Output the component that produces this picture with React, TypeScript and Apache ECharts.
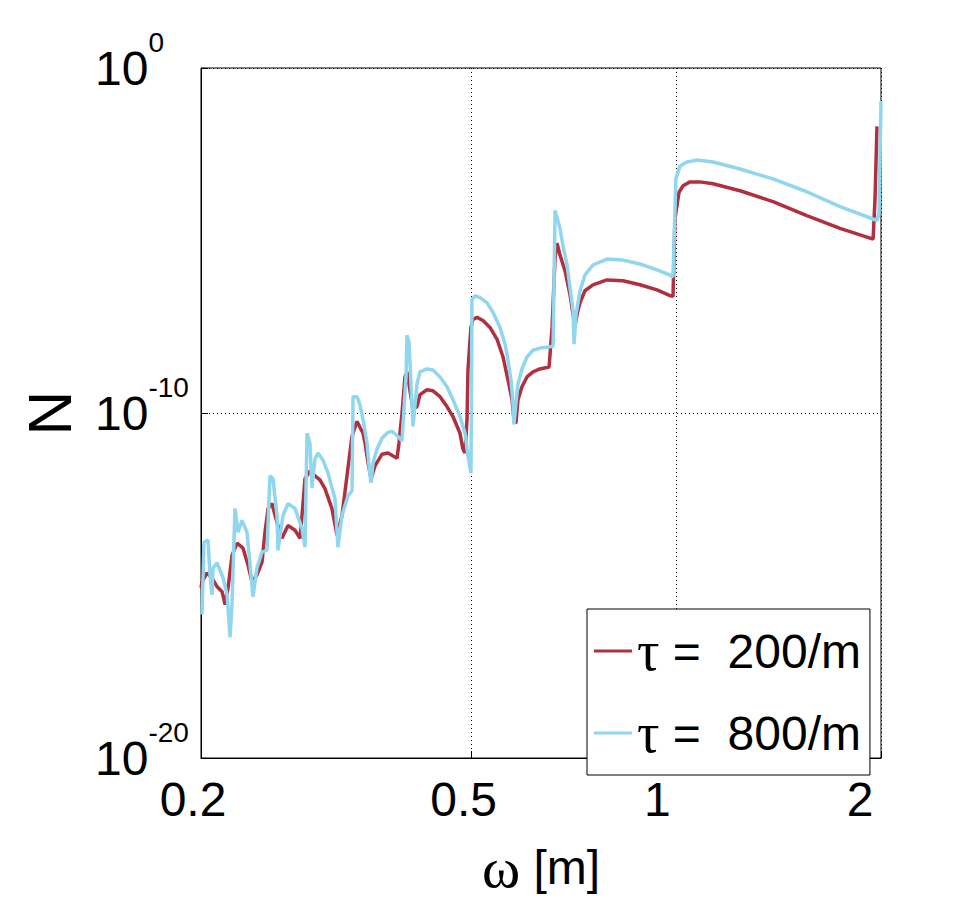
import React, { useEffect, useRef } from "react";
import * as echarts from "echarts";

const xTicks = [0.2, 0.5, 1, 2];
const yTicks = [1e-20, 1e-10, 1];
const seriesNames = ["τ =  200/m", "τ =  800/m"];
const seriesColors = ["#B0303F", "#8FD6EE"];

// [omega, N] pairs, tau = 200/m
const tau200: [number, number][] = [
  [0.2, 8.6e-16], [0.2007, 1.28e-15], [0.2041, 2.32e-15], [0.2076, 1.67e-15], [0.2112, 9.2e-16],
  [0.2148, 6.6e-16], [0.217, 2.8e-16], [0.2192, 8.6e-16], [0.2222, 7.6e-15], [0.226, 1.69e-14],
  [0.2306, 1.21e-14], [0.2345, 3.9e-15], [0.2377, 1.28e-15], [0.2417, 2.03e-15], [0.2459, 4.8e-15],
  [0.2484, 3.5e-14], [0.251, 1.7e-13], [0.2543, 2.37e-13], [0.2587, 6.7e-14], [0.2631, 2.34e-14],
  [0.2685, 5.5e-14], [0.275, 3.98e-14], [0.2797, 2.34e-14], [0.2816, 1.07e-13], [0.2844, 1.24e-12],
  [0.2892, 2.09e-12], [0.2942, 1.51e-12], [0.2992, 1.16e-12], [0.3043, 6.4e-13], [0.3116, 1.7e-13],
  [0.317, 2.86e-14], [0.3224, 1.07e-13], [0.3279, 1.51e-12], [0.3335, 2.12e-11], [0.3392, 5.7e-11],
  [0.3462, 2.58e-11], [0.3486, 1.33e-11], [0.3521, 3.56e-12], [0.3557, 1.24e-12], [0.3605, 2.92e-12],
  [0.3692, 6.4e-12], [0.3767, 6.9e-12], [0.3884, 4.9e-12], [0.391, 1.33e-11], [0.395, 9.7e-11],
  [0.399, 1.11e-9], [0.4018, 1.55e-9], [0.41, 1.26e-10], [0.4156, 1.54e-10], [0.4198, 3.4e-10],
  [0.4299, 4.7e-10], [0.4387, 4.4e-10], [0.4493, 2.97e-10], [0.46, 1.54e-10], [0.4694, 7.9e-11],
  [0.4807, 2.58e-11], [0.4856, 9.0e-12], [0.489, 6.9e-12], [0.4923, 6.5e-11], [0.4939, 1.77e-9],
  [0.4989, 3.03e-8], [0.5023, 5.15e-8], [0.5092, 5.9e-8], [0.5196, 4.8e-8], [0.5321, 3.03e-8],
  [0.545, 1.37e-8], [0.5561, 4.2e-9], [0.5656, 9.1e-10], [0.5733, 2.44e-10], [0.5771, 6.5e-11],
  [0.581, 5.0e-11], [0.585, 2.44e-10], [0.593, 5.75e-10], [0.6031, 1.11e-9], [0.6156, 1.55e-9],
  [0.6302, 1.89e-9], [0.65, 2.16e-9], [0.6566, 3.03e-8], [0.6633, 3.1e-6], [0.6678, 8.3e-6],
  [0.6745, 3.78e-6], [0.6861, 1.31e-6], [0.6977, 2.69e-7], [0.705, 7.2e-8], [0.7098, 3.46e-8],
  [0.7145, 7.2e-8], [0.7219, 1.58e-7], [0.7339, 3.5e-7], [0.7541, 5.2e-7], [0.7909, 7.2e-7],
  [0.8348, 6.8e-7], [0.8843, 5.2e-7], [0.9367, 3.7e-7], [0.9789, 2.51e-7], [0.9889, 2.4e-7],
  [0.9956, 4.35e-5], [1.0092, 2.5e-4], [1.0229, 3.85e-4], [1.0475, 5.0e-4], [1.0835, 5.0e-4],
  [1.1324, 4.4e-4], [1.2407, 2.77e-4], [1.3874, 1.34e-4], [1.5557, 5.3e-5], [1.7408, 2.25e-5],
  [1.9471, 1.09e-5], [1.96, 1.63e-4], [1.973, 2.03e-2],
];

// [omega, N] pairs, tau = 800/m
const tau800: [number, number][] = [
  [0.2007, 1.45e-16], [0.202, 1.8e-14], [0.2048, 2.06e-14], [0.2062, 2.03e-15], [0.2076, 5.4e-16],
  [0.2083, 3.2e-15], [0.2112, 4.5e-15], [0.2155, 1.67e-15], [0.2185, 5.4e-16], [0.2207, 3.17e-17],
  [0.2222, 3.4e-16], [0.2244, 1.7e-13], [0.2267, 3.5e-14], [0.2298, 7.7e-14], [0.2337, 3.5e-14],
  [0.2369, 2.03e-15], [0.2385, 4.75e-16], [0.2417, 3.2e-15], [0.2459, 9.3e-15], [0.2501, 1.06e-14],
  [0.2526, 1.51e-12], [0.2552, 1.24e-12], [0.2587, 1.07e-13], [0.2596, 1.06e-14], [0.264, 1.07e-13],
  [0.2685, 2.37e-13], [0.275, 1.7e-13], [0.2816, 4.5e-14], [0.2844, 1.29e-14], [0.2864, 2.58e-11],
  [0.2892, 1.33e-11], [0.2912, 6.8e-13], [0.2942, 4.6e-12], [0.2972, 6.9e-12], [0.3023, 4.3e-12],
  [0.3074, 1.84e-12], [0.3148, 3.3e-13], [0.318, 1.29e-14], [0.3224, 1.07e-13], [0.329, 4.0e-13],
  [0.3335, 5.6e-13], [0.3347, 2.97e-10], [0.3392, 2.97e-10], [0.3425, 1.75e-10], [0.3462, 6.5e-11],
  [0.3509, 1.33e-11], [0.3532, 2.92e-12], [0.3557, 9.5e-13], [0.3581, 3.56e-12], [0.363, 9.0e-12],
  [0.3692, 1.85e-11], [0.3767, 2.75e-11], [0.3819, 2.94e-11], [0.3897, 2.12e-11], [0.395, 1.52e-11],
  [0.4004, 1.11e-9], [0.4018, 1.79e-8], [0.4045, 1.13e-8], [0.41, 4.1e-11], [0.4156, 7.0e-10],
  [0.4198, 1.55e-9], [0.4299, 1.89e-9], [0.4387, 1.77e-9], [0.4493, 1.11e-9], [0.46, 5.75e-10],
  [0.4694, 2.44e-10], [0.4807, 7.9e-11], [0.489, 2.58e-11], [0.4939, 5.65e-12], [0.4989, 1.84e-12],
  [0.4998, 2.97e-10], [0.5006, 1.93e-7], [0.5058, 2.51e-7], [0.5144, 2.2e-7], [0.5266, 1.58e-7],
  [0.5377, 8.2e-8], [0.5505, 3.03e-8], [0.56, 9.9e-9], [0.5656, 3.4e-9], [0.5713, 9.1e-10],
  [0.5752, 1.87e-10], [0.5771, 4.7e-11], [0.581, 1.87e-10], [0.585, 7.0e-10], [0.593, 1.89e-9],
  [0.6031, 4.2e-9], [0.6156, 6.6e-9], [0.6302, 7.6e-9], [0.6588, 8.65e-9], [0.6633, 7.4e-5],
  [0.6745, 2.25e-5], [0.6815, 6.8e-6], [0.6908, 1.95e-6], [0.6977, 4.3e-7], [0.705, 9.3e-8],
  [0.7074, 9.9e-9], [0.7121, 7.2e-8], [0.7219, 3.5e-7], [0.7339, 1.0e-6], [0.7541, 1.95e-6],
  [0.7909, 2.9e-6], [0.8348, 2.7e-6], [0.8843, 2.08e-6], [0.9367, 1.4e-6], [0.9789, 1.0e-6],
  [0.9889, 8.8e-7], [0.9985, 6.1e-4], [1.0126, 1.44e-3], [1.0369, 1.88e-3], [1.0726, 2.14e-3],
  [1.1324, 1.88e-3], [1.2407, 1.18e-3], [1.3874, 6.1e-4], [1.5557, 2.59e-4], [1.7408, 9.6e-5],
  [1.973, 3.8e-5], [1.9866, 6.05e-5], [2.0, 0.11],
];

const SANS = "'Liberation Sans', Arial, Helvetica, sans-serif";
const SERIF = "'Liberation Serif', 'Times New Roman', serif";

export default function App() {
  const ref = useRef<HTMLDivElement>(null);

  useEffect(() => {
    const chart = echarts.init(ref.current as HTMLDivElement, null, { renderer: "svg" });
    const dotted = { color: "#000", width: 1, type: [1, 3] as number[] };
    const xLabelStyle = (pad: number) => ({
      fontSize: 48,
      fontFamily: SANS,
      color: "#000",
      padding: [0, pad, 0, 0],
    });
    chart.setOption({
      animation: false,
      backgroundColor: "#fff",
      grid: {
        left: 201,
        top: 68,
        right: 93,
        bottom: 136,
        show: true,
        borderColor: "#000",
        borderWidth: 1,
        backgroundColor: "transparent",
      },
      xAxis: {
        type: "log",
        logBase: 10,
        min: 0.2,
        max: 2,
        axisLine: { show: true, lineStyle: { color: "#000", width: 1 } },
        axisTick: {
          show: true,
          inside: true,
          length: 7,
          customValues: xTicks,
          lineStyle: { color: "#000", width: 1 },
        },
        minorTick: { show: false },
        axisLabel: {
          customValues: xTicks,
          margin: 17,
          color: "#000",
          fontSize: 48,
          fontFamily: SANS,
          formatter: (v: number) => {
            const s = String(Math.round(v * 10) / 10);
            const k = s === "1" ? "b" : s === "2" ? "c" : "a";
            return `{${k}|${s}}`;
          },
          rich: { a: xLabelStyle(16), b: xLabelStyle(38), c: xLabelStyle(42) },
        },
        splitLine: { show: true, lineStyle: dotted },
        name: "{w|ω} [m]",
        nameLocation: "middle",
        nameGap: 80,
        nameTextStyle: {
          color: "#000",
          fontSize: 48,
          fontFamily: SANS,
          rich: { w: { fontFamily: SERIF, fontSize: 58, color: "#000" } },
        },
      },
      yAxis: {
        type: "log",
        logBase: 10,
        min: 1e-20,
        max: 1,
        axisLine: { show: true, lineStyle: { color: "#000", width: 1 } },
        axisTick: {
          show: true,
          inside: true,
          length: 7,
          customValues: yTicks,
          lineStyle: { color: "#000", width: 1 },
        },
        minorTick: { show: false },
        axisLabel: {
          customValues: yTicks,
          align: "left",
          margin: 106,
          color: "#000",
          formatter: (v: number) => `{b|10}{e|${Math.round(Math.log10(v))}}`,
          rich: {
            b: { fontSize: 48, fontFamily: SANS, color: "#000", lineHeight: 80 },
            e: {
              fontSize: 28,
              fontFamily: SANS,
              color: "#000",
              lineHeight: 28,
              verticalAlign: "top",
            },
          },
        },
        splitLine: { show: true, lineStyle: dotted },
        name: "N",
        nameLocation: "middle",
        nameRotate: 90,
        nameGap: 121,
        nameTextStyle: { color: "#000", fontSize: 62, fontFamily: SANS },
      },
      legend: {
        orient: "vertical",
        left: 587,
        top: 609,
        padding: [14, 9, 14, 7],
        icon: "rect",
        itemWidth: 38,
        itemHeight: 3,
        itemGap: 26,
        backgroundColor: "#fff",
        borderColor: "#000",
        borderWidth: 1,
        borderRadius: 0,
        selectedMode: false,
        formatter: (name: string) => `{t|${name.slice(0, 1)}}{n|${name.slice(1)}}`,
        textStyle: {
          color: "#000",
          fontSize: 48,
          fontFamily: SANS,
          lineHeight: 48,
          rich: {
            t: { fontFamily: SERIF, fontSize: 56, color: "#000" },
            n: { fontFamily: SANS, fontSize: 48, color: "#000" },
          },
        },
        data: seriesNames,
      },
      series: [
        {
          name: seriesNames[0],
          type: "line",
          symbol: "none",
          showSymbol: false,
          color: seriesColors[0],
          itemStyle: { color: seriesColors[0] },
          lineStyle: { width: 3.5, color: seriesColors[0] },
          emphasis: { disabled: true },
          data: tau200,
          z: 2,
        },
        {
          name: seriesNames[1],
          type: "line",
          symbol: "none",
          showSymbol: false,
          color: seriesColors[1],
          itemStyle: { color: seriesColors[1] },
          lineStyle: { width: 3.5, color: seriesColors[1] },
          emphasis: { disabled: true },
          data: tau800,
          z: 3,
        },
      ],
    });
    return () => chart.dispose();
  }, []);

  return (
    <div
      ref={ref}
      style={{ position: "fixed", left: 0, top: 0, width: 974, height: 901, background: "#fff" }}
    />
  );
}
